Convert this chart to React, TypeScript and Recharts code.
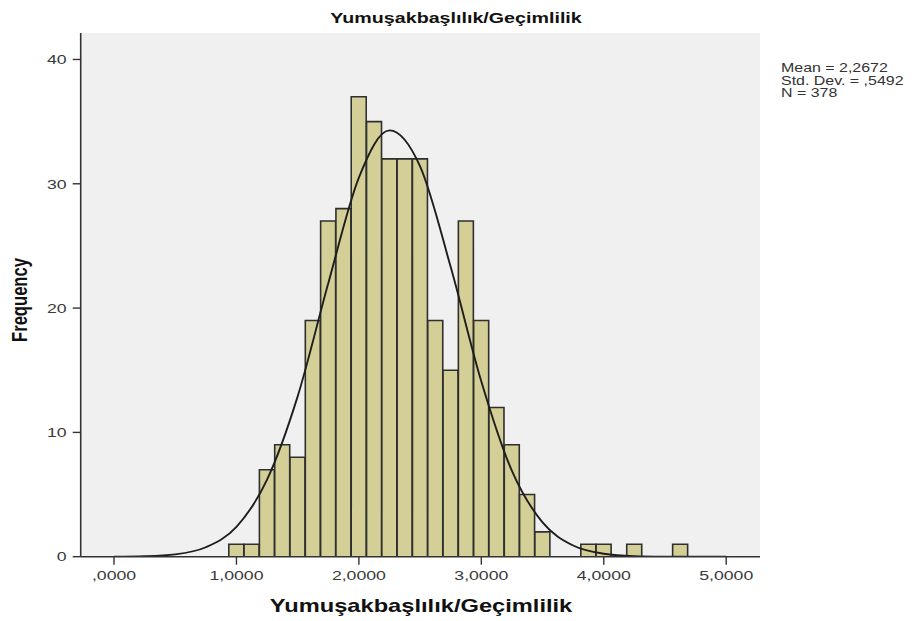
import React from "react";
import { ComposedChart, Bar, Line, XAxis, YAxis, CartesianGrid } from "recharts";

// Histogram bins (bin centres, width 0.125) and counts
const binCenters = [1.0, 1.125, 1.25, 1.375, 1.5, 1.625, 1.75, 1.875, 2.0, 2.125, 2.25, 2.375, 2.5, 2.625, 2.75, 2.875, 3.0, 3.125, 3.25, 3.375, 3.5, 3.875, 4.0, 4.25, 4.625];
const binCounts = [1, 1, 7, 9, 8, 19, 27, 28, 37, 35, 32, 32, 32, 19, 15, 27, 19, 12, 9, 5, 2, 1, 1, 1, 1];

// Normal curve
const curveX = [0, 0.25, 0.5, 0.75, 1.0, 1.25, 1.5, 1.75, 2.0, 2.25, 2.5, 2.75, 3.0, 3.25, 3.5, 3.75, 4.0, 4.25, 4.5, 4.75, 5.0];
const curveY = [0, 0.04, 0.19, 0.76, 2.4, 6.2, 12.9, 22.0, 30.5, 34.3, 31.4, 23.3, 14.1, 6.9, 2.76, 0.9, 0.24, 0.05, 0.01, 0, 0];

const xTicks = [0, 1, 2, 3, 4, 5];
const yTicks = [0, 10, 20, 30, 40];
const titleText = "Yumuşakbaşlılık/Geçimlilik";
const yLabelText = "Frequency";
const statsLines = ["Mean = 2,2672", "Std. Dev. = ,5492", "N = 378"];

const FONT = "'Liberation Sans', Arial, sans-serif";
const SX = 1.33;

type Row = { x: number; count?: number; curve?: number };
const buildRows = (): Row[] => {
  const map = new Map<number, Row>();
  binCenters.forEach((c, i) => {
    const r = map.get(c) || { x: c };
    r.count = binCounts[i];
    map.set(c, r);
  });
  curveX.forEach((c, i) => {
    const r = map.get(c) || { x: c };
    r.curve = curveY[i];
    map.set(c, r);
  });
  return Array.from(map.values()).sort((a, b) => a.x - b.x);
};
const rows = buildRows();

const fmtX = (v: number) => (v === 0 ? ",0000" : `${v},0000`);

const XTick = (p: any) => {
  const { x, y, payload } = p;
  return (
    <g transform={`translate(${x},${y + 9.5})`}>
      <text textAnchor="middle" transform={`scale(${SX},1)`} fill="#3a3a3a" fontSize={13.3} fontFamily={FONT}>
        {fmtX(payload.value)}
      </text>
    </g>
  );
};

const YTick = (p: any) => {
  const { x, y, payload } = p;
  return (
    <g transform={`translate(${x},${y})`}>
      <text textAnchor="end" dy="0.355em" transform={`scale(${SX},1)`} fill="#3a3a3a" fontSize={13.3} fontFamily={FONT}>
        {payload.value}
      </text>
    </g>
  );
};

const XDOMAIN: [number, number] = [-0.272, 5.276];
const YDOMAIN: [number, number] = [0, 42.13];

export default function App() {
  return (
    <div style={{ position: "absolute", left: 0, top: 0, width: 914, height: 621, background: "#fff" }}>
      <ComposedChart
        width={914}
        height={621}
        data={rows}
        margin={{ top: 33, right: 154, bottom: 34.3, left: 30.7 }}
        barCategoryGap={0}
        barGap={0}
      >
        <CartesianGrid horizontal={false} vertical={false} fill="#F0F0F0" />
        <XAxis
          dataKey="x"
          type="number"
          domain={XDOMAIN}
          ticks={xTicks}
          allowDataOverflow
          height={30}
          tickSize={8}
          tickMargin={5.3}
          tick={<XTick />}
          axisLine={{ stroke: "#333", strokeWidth: 1.6 }}
          tickLine={{ stroke: "#333", strokeWidth: 1.4 }}
        />
        <XAxis
          xAxisId="top"
          orientation="top"
          dataKey="x"
          type="number"
          domain={XDOMAIN}
          allowDataOverflow
          height={0}
          tick={false}
          tickLine={false}
          axisLine={{ stroke: "#666", strokeWidth: 1.5 }}
        />
        <YAxis
          type="number"
          domain={YDOMAIN}
          ticks={yTicks}
          allowDataOverflow
          width={50}
          tickSize={8}
          tickMargin={6}
          tick={<YTick />}
          axisLine={{ stroke: "#333", strokeWidth: 1.6 }}
          tickLine={{ stroke: "#333", strokeWidth: 1.4 }}
        />
        <YAxis
          yAxisId="right"
          orientation="right"
          type="number"
          domain={YDOMAIN}
          allowDataOverflow
          width={0}
          tick={false}
          tickLine={false}
          axisLine={{ stroke: "#666", strokeWidth: 1.5 }}
        />
        <Bar dataKey="count" fill="#D3CF96" stroke="#2f2f2f" strokeWidth={1.6} isAnimationActive={false} />
        <Line
          dataKey="curve"
          type="monotone"
          stroke="#1e1e1e"
          strokeWidth={1.9}
          dot={false}
          connectNulls
          isAnimationActive={false}
        />
      </ComposedChart>
      <svg width={914} height={621} style={{ position: "absolute", left: 0, top: 0, pointerEvents: "none" }}>
        <g transform="translate(456,22.5)">
          <text textAnchor="middle" transform={`scale(${SX},1)`} fontSize={14.8} fontWeight="bold" fontFamily={FONT} fill="#111">
            {titleText}
          </text>
        </g>
        <g transform="translate(421,612)">
          <text textAnchor="middle" transform={`scale(${SX},1)`} fontSize={17.8} fontWeight="bold" fontFamily={FONT} fill="#111">
            {titleText}
          </text>
        </g>
        <g transform={`translate(27.4,300) rotate(-90) scale(1,${SX})`}>
          <text textAnchor="middle" fontSize={16.6} fontWeight="bold" fontFamily={FONT} fill="#111">
            {yLabelText}
          </text>
        </g>
        {statsLines.map((s, i) => (
          <g key={s} transform={`translate(781,${72 + i * 12.5})`}>
            <text transform={`scale(${SX},1)`} fontSize={12} fontFamily={FONT} fill="#333">
              {s}
            </text>
          </g>
        ))}
      </svg>
    </div>
  );
}
